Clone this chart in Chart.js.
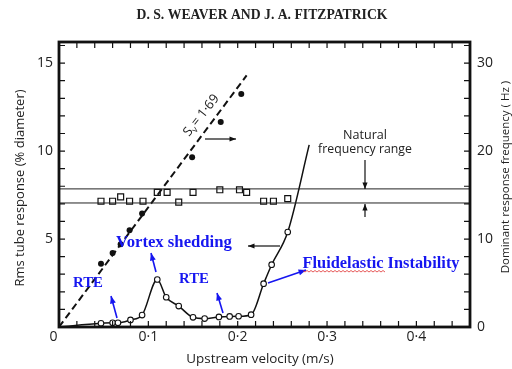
<!DOCTYPE html>
<html>
<head>
<meta charset="utf-8">
<script src="https://cdn.jsdelivr.net/npm/chart.js@4/dist/chart.umd.min.js"></script>
<style>
  html, body { margin: 0; padding: 0; background: #fff; }
  #wrap { width: 512px; height: 369px; }
</style>
</head>
<body>
<div id="wrap"><canvas id="c" width="512" height="369"></canvas></div>
<script>
// vortex shedding frequency (filled dots, right axis, Hz)
const shedVel  = [0.047, 0.060, 0.069, 0.079, 0.093, 0.149, 0.181, 0.204];
const shedFreq = [7.2, 8.4, 9.4, 11.0, 12.9, 19.3, 23.3, 26.5];

// dominant response frequency (open squares, right axis, Hz)
const domVel  = [0.047, 0.060, 0.069, 0.079, 0.094, 0.110, 0.121, 0.134, 0.150, 0.180, 0.202, 0.210, 0.229, 0.240, 0.256];
const domFreq = [14.3, 14.3, 14.8, 14.3, 14.3, 15.3, 15.3, 14.2, 15.3, 15.6, 15.6, 15.3, 14.3, 14.3, 14.6];

// rms tube response (open circles, left axis, % diameter); first and last have no marker
const rmsVel = [0, 0.047, 0.060, 0.066, 0.080, 0.093, 0.110, 0.120, 0.134, 0.150, 0.163, 0.179, 0.191, 0.201, 0.215, 0.229, 0.238, 0.256, 0.280];
const rmsAmp = [0, 0.21, 0.24, 0.24, 0.40, 0.68, 2.70, 1.69, 1.19, 0.55, 0.48, 0.57, 0.60, 0.61, 0.70, 2.46, 3.54, 5.40, 10.35];

// Strouhal line S = 1.69 (dashed)
const strouhalVel  = [0, 0.21];
const strouhalFreq = [0, 28.6];

// natural frequency range (Hz)
const natLow = 14.1, natHigh = 15.7;

const xLabels  = [0, 0.1, 0.2, 0.3, 0.4];
const yLabels  = [5, 10, 15];
const y2Labels = [0, 10, 20, 30];

const BLUE = '#1616f0';
const pts = (xs, ys) => xs.map((x, i) => ({ x, y: ys[i] }));

function arrow(ctx, x1, y1, x2, y2, color, head, lw) {
  ctx.save();
  ctx.strokeStyle = color; ctx.fillStyle = color; ctx.lineWidth = lw || 1.3;
  ctx.beginPath(); ctx.moveTo(x1, y1); ctx.lineTo(x2, y2); ctx.stroke();
  const a = Math.atan2(y2 - y1, x2 - x1);
  ctx.beginPath(); ctx.moveTo(x2, y2);
  ctx.lineTo(x2 - head * Math.cos(a - 0.38), y2 - head * Math.sin(a - 0.38));
  ctx.lineTo(x2 - head * Math.cos(a + 0.38), y2 - head * Math.sin(a + 0.38));
  ctx.closePath(); ctx.fill();
  ctx.restore();
}

// draw text centred on (cx, cy), sized to span width w
function fitText(ctx, txt, cx, cy, w, font, color, rot) {
  ctx.save();
  ctx.font = font.replace('SZ', '20px');
  const sz = 20 * w / ctx.measureText(txt).width;
  ctx.font = font.replace('SZ', sz.toFixed(1) + 'px');
  ctx.fillStyle = color; ctx.textAlign = 'center'; ctx.textBaseline = 'middle';
  ctx.translate(cx, cy);
  if (rot) ctx.rotate(rot);
  ctx.fillText(txt, 0, 0);
  ctx.restore();
}

const decor = {
  id: 'decor',
  afterDatasetsDraw(chart) {
    const ctx = chart.ctx;
    const { left, right, top, bottom } = chart.chartArea;
    const sx = chart.scales.x, sy = chart.scales.y, sy2 = chart.scales.y2;

    // inward ticks
    ctx.save();
    ctx.strokeStyle = '#111'; ctx.lineWidth = 1.2;
    ctx.beginPath();
    for (let i = 1; i <= 22; i++) {
      const px = sx.getPixelForValue(i * 0.02);
      ctx.moveTo(px, bottom); ctx.lineTo(px, bottom - 6);
      ctx.moveTo(px, top); ctx.lineTo(px, top + 6);
    }
    for (let v = 1; v <= 16; v++) {
      const p = sy.getPixelForValue(v);
      ctx.moveTo(left, p); ctx.lineTo(left + 6, p);
    }
    for (let v = 2; v <= 32; v += 2) {
      const p = sy2.getPixelForValue(v);
      ctx.moveTo(right, p); ctx.lineTo(right - 6, p);
    }
    ctx.stroke();
    // frame
    ctx.lineWidth = 2.8;
    ctx.strokeRect(left, top, right - left, bottom - top);
    ctx.restore();

    const sans = '"Open Sans", sans-serif';
    const serif = '"Liberation Serif", serif';

    // header
    fitText(ctx, 'D. S. WEAVER AND J. A. FITZPATRICK', 262, 15, 251, '600 SZ ' + serif, '#222');
    // axis titles
    fitText(ctx, 'Rms tube response (% diameter)', 20, 188, 197, 'SZ ' + sans, '#222', -Math.PI / 2);
    fitText(ctx, 'Dominant response frequency ( Hz )', 506, 177, 193, 'SZ ' + sans, '#222', -Math.PI / 2);
    fitText(ctx, 'Upstream velocity (m/s)', 260, 359, 147, 'SZ ' + sans, '#222');

    // natural frequency range label + arrows
    fitText(ctx, 'Natural', 365, 135, 44, 'SZ ' + sans, '#222');
    fitText(ctx, 'frequency range', 365, 149, 94, 'SZ ' + sans, '#222');
    arrow(ctx, 365, 160, 365, 189, '#111', 7, 1.2);
    arrow(ctx, 365, 217, 365, 204, '#111', 7, 1.2);

    // direction arrows
    arrow(ctx, 205, 139, 236, 139, '#111', 7, 1.2);
    arrow(ctx, 280, 246, 248, 246, '#111', 7, 1.2);

    // Strouhal label
    ctx.save();
    ctx.translate(189, 137);
    ctx.rotate(-0.90);
    ctx.fillStyle = '#222'; ctx.textBaseline = 'alphabetic'; ctx.textAlign = 'left';
    ctx.font = '13px ' + sans;
    ctx.fillText('S', 0, 0);
    let w = ctx.measureText('S').width;
    ctx.font = '9px ' + sans;
    ctx.fillText('v', w, 3);
    w += ctx.measureText('v').width + 1;
    ctx.font = '13px ' + sans;
    ctx.fillText('= 1·69', w, 0);
    ctx.restore();

    // blue annotations
    const bf = 'bold SZ ' + serif;
    fitText(ctx, 'Vortex shedding', 174, 243, 116, bf, BLUE);
    fitText(ctx, 'RTE', 88, 283, 30, bf, BLUE);
    fitText(ctx, 'RTE', 194, 279, 30, bf, BLUE);
    fitText(ctx, 'Fluidelastic Instability', 381, 264, 157, bf, BLUE);
    arrow(ctx, 117, 318, 111, 296, BLUE, 8, 1.6);
    arrow(ctx, 156, 272, 151, 253, BLUE, 8, 1.6);
    arrow(ctx, 223, 313, 217, 293, BLUE, 8, 1.6);
    arrow(ctx, 268, 283, 306, 270, BLUE, 8, 1.6);

    // red spell-check squiggle under "Fluidelastic"
    ctx.save();
    ctx.strokeStyle = '#e03030'; ctx.lineWidth = 0.8;
    ctx.beginPath();
    for (let x = 303, k = 0; x <= 385; x += 2, k++) {
      const y = 271 + (k % 2 ? 1 : -0.5);
      if (k === 0) ctx.moveTo(x, y); else ctx.lineTo(x, y);
    }
    ctx.stroke();
    ctx.restore();
  }
};

const tickFont = { family: '"Open Sans", sans-serif', size: 14 };

new Chart(document.getElementById('c'), {
  type: 'scatter',
  data: {
    datasets: [
      {
        data: [{ x: 0, y: natHigh }, { x: 0.46, y: natHigh }],
        yAxisID: 'y2', showLine: true, borderColor: '#222', borderWidth: 1, pointRadius: 0
      },
      {
        data: [{ x: 0, y: natLow }, { x: 0.46, y: natLow }],
        yAxisID: 'y2', showLine: true, borderColor: '#222', borderWidth: 1, pointRadius: 0
      },
      {
        data: pts(strouhalVel, strouhalFreq),
        yAxisID: 'y2', showLine: true, borderColor: '#111', borderWidth: 2,
        borderDash: [7, 4], pointRadius: 0
      },
      {
        data: pts(rmsVel, rmsAmp),
        yAxisID: 'y', showLine: true, borderColor: '#111', borderWidth: 1.5,
        cubicInterpolationMode: 'monotone',
        pointRadius: rmsVel.map((v, i) => (i === 0 || i === rmsVel.length - 1) ? 0 : 2.8),
        pointBackgroundColor: '#fff', pointBorderColor: '#111', pointBorderWidth: 1.1
      },
      {
        data: pts(domVel, domFreq),
        yAxisID: 'y2', pointStyle: 'rect', pointRadius: 4.2,
        pointBackgroundColor: '#fff', pointBorderColor: '#111', pointBorderWidth: 1.2
      },
      {
        data: pts(shedVel, shedFreq),
        yAxisID: 'y2', pointRadius: 3,
        pointBackgroundColor: '#111', pointBorderColor: '#111', pointBorderWidth: 0
      }
    ]
  },
  options: {
    responsive: false,
    animation: false,
    layout: { padding: { top: 42, left: 0, right: 0, bottom: 0 } },
    plugins: { legend: { display: false }, tooltip: { enabled: false }, title: { display: false } },
    scales: {
      x: {
        type: 'linear', min: 0, max: 0.46,
        grid: { display: false, drawTicks: false }, border: { display: false },
        afterBuildTicks: s => { s.ticks = xLabels.map(v => ({ value: v })); },
        afterFit: s => { s.height = 42; },
        ticks: {
          font: tickFont, color: '#222', padding: 2, maxRotation: 0, autoSkip: false,
          callback: v => v === 0 ? '0   ' : v.toFixed(1).replace('.', '·')
        }
      },
      y: {
        type: 'linear', position: 'left', min: 0, max: 16.2,
        grid: { display: false, drawTicks: false }, border: { display: false },
        afterBuildTicks: s => { s.ticks = yLabels.map(v => ({ value: v })); },
        afterFit: s => { s.width = 59; },
        ticks: { font: tickFont, color: '#222', padding: 6, autoSkip: false }
      },
      y2: {
        type: 'linear', position: 'right', min: 0, max: 32.4,
        grid: { display: false, drawTicks: false }, border: { display: false },
        afterBuildTicks: s => { s.ticks = y2Labels.map(v => ({ value: v })); },
        afterFit: s => { s.width = 42; },
        ticks: { font: tickFont, color: '#222', padding: 7, autoSkip: false }
      }
    }
  },
  plugins: [decor]
});
</script>
</body>
</html>
